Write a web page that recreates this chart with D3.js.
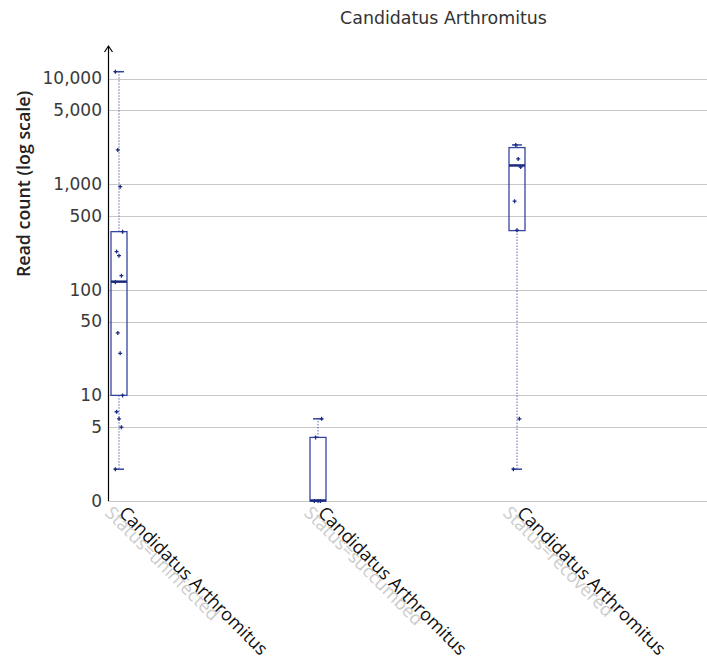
<!DOCTYPE html>
<html><head><meta charset="utf-8">
<script src="https://cdn.jsdelivr.net/npm/d3@7"></script>
<style>body{margin:0;background:#fff}svg{display:block}</style>
</head><body>
<svg id="c" width="707" height="662"></svg>
<script>
const title = "Candidatus Arthromitus";
const yLabel = "Read count (log scale)";
const categories = ["uninfected", "succumbed", "recovered"];
const taxonLabels = ["Candidatus Arthromitus", "Candidatus Arthromitus", "Candidatus Arthromitus"];
const statusLabels = ["Status=uninfected", "Status=succumbed", "Status=recovered"];
const yTicks = [0, 5, 10, 50, 100, 500, 1000, 5000, 10000];
const whiskerLow = [2, 0, 2];
const q1 = [10, 0, 363];
const median = [118, 0, 1486];
const q3 = [355, 4, 2218];
const whiskerHigh = [11600, 6, 2350];
const pointsUninfected = [2, 5, 6, 7, 10, 25, 39, 118, 136, 210, 230, 355, 946, 2108, 11600];
const pointsSuccumbed = [0, 0, 0, 4, 6];
const pointsRecovered = [2, 6, 366, 689, 1450, 1733, 2350];
const points = [pointsUninfected, pointsSuccumbed, pointsRecovered];

const svg = d3.select("#c");
const axisX = 108, plotRight = 707;
const y0 = d3.scaleLog().domain([1, 10000]).range([501, 78.5]);
const y = v => y0(Math.max(v, 1));
const x = d3.scalePoint().domain(categories).range([119, 517]);
const boxW = 16, capW = 10;
const blue = "#3446a0", navy = "#1c2c80";

// gridlines
svg.append("g").selectAll("line").data(yTicks).join("line")
  .attr("x1", axisX).attr("x2", plotRight)
  .attr("y1", d => Math.round(y(d)) + 0.5).attr("y2", d => Math.round(y(d)) + 0.5)
  .attr("stroke", "#c8c8c8").attr("stroke-width", 1);

// y axis
const yAxis = d3.axisLeft(y0).tickValues(yTicks.map(d => Math.max(d, 1)))
  .tickFormat((d, i) => d3.format(",")(yTicks[i])).tickSize(0).tickPadding(6);
const ga = svg.append("g").attr("transform", `translate(${axisX},0)`).call(yAxis);
ga.select(".domain").remove();
ga.selectAll("text").attr("font-family", "DejaVu Sans").attr("font-size", 17).attr("fill", "#3a3a3a");
svg.append("line").attr("x1", axisX + 0.5).attr("x2", axisX + 0.5).attr("y1", 47).attr("y2", 501)
  .attr("stroke", "#000").attr("stroke-width", 1.2);
svg.append("path").attr("d", `M${axisX - 3.5},${52} L${axisX + 0.5},${46} L${axisX + 4.5},${52}`)
  .attr("fill", "none").attr("stroke", "#000").attr("stroke-width", 1.2);

// title
svg.append("text").attr("x", 443.5).attr("y", 24).attr("text-anchor", "middle")
  .attr("font-family", "DejaVu Sans").attr("font-size", 17.4).attr("fill", "#333").text(title);

// y label
svg.append("text").attr("transform", "translate(29.5,184) rotate(-90)").attr("text-anchor", "middle")
  .attr("font-family", "Open Sans").attr("font-weight", 600).attr("font-size", 17.8).attr("fill", "#222").text(yLabel);

// boxes
const g = svg.append("g");
categories.forEach((c, i) => {
  const cx = x(c);
  if (whiskerHigh[i] > q3[i]) {
    g.append("line").attr("x1", cx).attr("x2", cx).attr("y1", y(q3[i])).attr("y2", y(whiskerHigh[i]))
      .attr("stroke", blue).attr("stroke-dasharray", "1.2,1.8");
    g.append("line").attr("x1", cx - capW / 2).attr("x2", cx + capW / 2).attr("y1", y(whiskerHigh[i])).attr("y2", y(whiskerHigh[i]))
      .attr("stroke", blue).attr("stroke-width", 1.5);
  }
  if (whiskerLow[i] < q1[i]) {
    g.append("line").attr("x1", cx).attr("x2", cx).attr("y1", y(q1[i])).attr("y2", y(whiskerLow[i]))
      .attr("stroke", blue).attr("stroke-dasharray", "1.2,1.8");
    g.append("line").attr("x1", cx - capW / 2).attr("x2", cx + capW / 2).attr("y1", y(whiskerLow[i])).attr("y2", y(whiskerLow[i]))
      .attr("stroke", blue).attr("stroke-width", 1.5);
  }
  g.append("rect").attr("x", cx - boxW / 2).attr("width", boxW)
    .attr("y", y(q3[i])).attr("height", Math.max(y(q1[i]) - y(q3[i]), 0))
    .attr("fill", "none").attr("stroke", blue).attr("stroke-width", 1.3);
  g.append("line").attr("x1", cx - boxW / 2).attr("x2", cx + boxW / 2)
    .attr("y1", y(median[i]) - 0.5).attr("y2", y(median[i]) - 0.5)
    .attr("stroke", navy).attr("stroke-width", 2.5);
  points[i].forEach((v, j) => {
    const jit = ((j * 5) % 7 - 3) * 1.2;
    const px = cx + jit, py = y(v);
    g.append("path").attr("d", `M${px - 2},${py} L${px + 2},${py} M${px},${py - 2} L${px},${py + 2}`)
      .attr("stroke", navy).attr("stroke-width", 1.3);
  });
  svg.append("text").attr("transform", `translate(${cx - 15},${514}) rotate(45)`)
    .attr("font-family", "Open Sans").attr("font-size", 18).attr("fill", "#cccccc").text(statusLabels[i]);
  svg.append("text").attr("transform", `translate(${cx - 1},${514}) rotate(45)`)
    .attr("font-family", "Open Sans").attr("font-size", 18).attr("fill", "#111").text(taxonLabels[i]);
});
</script>
</body></html>
